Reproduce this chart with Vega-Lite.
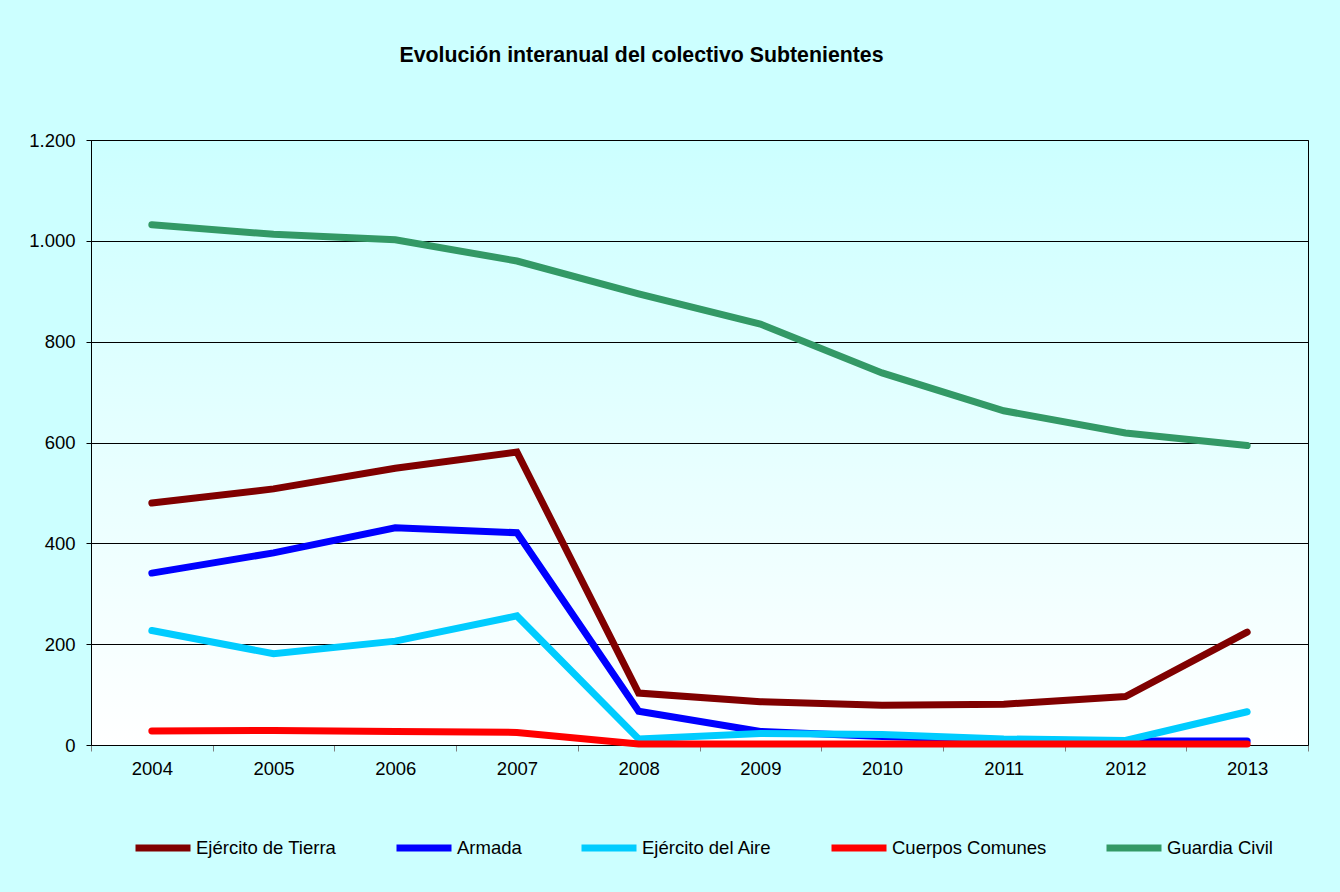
{
  "$schema": "https://vega.github.io/schema/vega-lite/v6.json",
  "autosize": {"type": "none"},
  "width": 1217,
  "height": 605,
  "padding": {"left": 91, "top": 140, "right": 32, "bottom": 147},
  "background": "#CCFFFF",
  "title": {
    "text": "Evolución interanual del colectivo Subtenientes",
    "font": "Liberation Sans",
    "fontSize": 21.3,
    "fontWeight": "bold",
    "color": "#000000",
    "anchor": "middle",
    "frame": "group",
    "dx": -58,
    "offset": 65
  },
  "data": {
    "values": [
      {"year": "2004", "serie": "Ejército de Tierra", "valor": 480},
      {"year": "2005", "serie": "Ejército de Tierra", "valor": 508},
      {"year": "2006", "serie": "Ejército de Tierra", "valor": 549},
      {"year": "2007", "serie": "Ejército de Tierra", "valor": 581},
      {"year": "2008", "serie": "Ejército de Tierra", "valor": 103},
      {"year": "2009", "serie": "Ejército de Tierra", "valor": 86},
      {"year": "2010", "serie": "Ejército de Tierra", "valor": 79},
      {"year": "2011", "serie": "Ejército de Tierra", "valor": 81},
      {"year": "2012", "serie": "Ejército de Tierra", "valor": 96},
      {"year": "2013", "serie": "Ejército de Tierra", "valor": 224},
      {"year": "2004", "serie": "Armada", "valor": 341},
      {"year": "2005", "serie": "Armada", "valor": 381},
      {"year": "2006", "serie": "Armada", "valor": 431},
      {"year": "2007", "serie": "Armada", "valor": 421},
      {"year": "2008", "serie": "Armada", "valor": 67},
      {"year": "2009", "serie": "Armada", "valor": 27},
      {"year": "2010", "serie": "Armada", "valor": 17},
      {"year": "2011", "serie": "Armada", "valor": 10},
      {"year": "2012", "serie": "Armada", "valor": 8},
      {"year": "2013", "serie": "Armada", "valor": 8},
      {"year": "2004", "serie": "Ejército del Aire", "valor": 227},
      {"year": "2005", "serie": "Ejército del Aire", "valor": 181},
      {"year": "2006", "serie": "Ejército del Aire", "valor": 206},
      {"year": "2007", "serie": "Ejército del Aire", "valor": 256},
      {"year": "2008", "serie": "Ejército del Aire", "valor": 12},
      {"year": "2009", "serie": "Ejército del Aire", "valor": 23},
      {"year": "2010", "serie": "Ejército del Aire", "valor": 21},
      {"year": "2011", "serie": "Ejército del Aire", "valor": 12},
      {"year": "2012", "serie": "Ejército del Aire", "valor": 9},
      {"year": "2013", "serie": "Ejército del Aire", "valor": 66},
      {"year": "2004", "serie": "Cuerpos Comunes", "valor": 28},
      {"year": "2005", "serie": "Cuerpos Comunes", "valor": 29},
      {"year": "2006", "serie": "Cuerpos Comunes", "valor": 27},
      {"year": "2007", "serie": "Cuerpos Comunes", "valor": 25},
      {"year": "2008", "serie": "Cuerpos Comunes", "valor": 2},
      {"year": "2009", "serie": "Cuerpos Comunes", "valor": 2},
      {"year": "2010", "serie": "Cuerpos Comunes", "valor": 2},
      {"year": "2011", "serie": "Cuerpos Comunes", "valor": 2},
      {"year": "2012", "serie": "Cuerpos Comunes", "valor": 2},
      {"year": "2013", "serie": "Cuerpos Comunes", "valor": 2},
      {"year": "2004", "serie": "Guardia Civil", "valor": 1032},
      {"year": "2005", "serie": "Guardia Civil", "valor": 1013},
      {"year": "2006", "serie": "Guardia Civil", "valor": 1002},
      {"year": "2007", "serie": "Guardia Civil", "valor": 960},
      {"year": "2008", "serie": "Guardia Civil", "valor": 895},
      {"year": "2009", "serie": "Guardia Civil", "valor": 835},
      {"year": "2010", "serie": "Guardia Civil", "valor": 738},
      {"year": "2011", "serie": "Guardia Civil", "valor": 663},
      {"year": "2012", "serie": "Guardia Civil", "valor": 619},
      {"year": "2013", "serie": "Guardia Civil", "valor": 594}
    ]
  },
  "mark": {"type": "line", "strokeWidth": 7, "strokeCap": "round", "strokeJoin": "miter"},
  "encoding": {
    "x": {
      "field": "year",
      "type": "ordinal",
      "scale": {"type": "band", "paddingInner": 0, "paddingOuter": 0},
      "axis": {
        "title": null,
        "labelAngle": 0,
        "tickBand": "extent",
        "tickSize": 6,
        "tickColor": "#808080",
        "domainColor": "#000000",
        "labelFont": "Liberation Sans",
        "labelFontSize": 18.5,
        "labelColor": "#000000",
        "labelPadding": 8,
        "grid": false
      }
    },
    "y": {
      "field": "valor",
      "type": "quantitative",
      "scale": {"domain": [0, 1200], "nice": false},
      "axis": {
        "title": null,
        "values": [0, 200, 400, 600, 800, 1000, 1200],
        "labelExpr": "replace(format(datum.value, ','), ',', '.')",
        "tickSize": 5,
        "tickColor": "#000000",
        "domainColor": "#000000",
        "labelFont": "Liberation Sans",
        "labelFontSize": 18.5,
        "labelColor": "#000000",
        "labelPadding": 11,
        "grid": true,
        "gridColor": "#000000",
        "gridWidth": 1,
        "gridOpacity": 1
      }
    },
    "color": {
      "field": "serie",
      "type": "nominal",
      "sort": null,
      "scale": {
        "domain": ["Ejército de Tierra", "Armada", "Ejército del Aire", "Cuerpos Comunes", "Guardia Civil"],
        "range": ["#800000", "#0000FF", "#00CCFF", "#FF0000", "#339966"]
      },
      "legend": {
        "title": null,
        "orient": "none",
        "direction": "horizontal",
        "legendX": 41,
        "legendY": 677,
        "symbolType": "stroke",
        "symbolSize": 3025,
        "symbolStrokeWidth": 7,
        "labelFont": "Liberation Sans",
        "labelFontSize": 18.5,
        "labelColor": "#000000",
        "labelOffset": 2,
        "columnPadding": 45
      }
    }
  },
  "config": {
    "view": {
      "stroke": "#000000",
      "strokeWidth": 1,
      "fill": {
        "gradient": "linear",
        "x1": 0, "y1": 0, "x2": 0, "y2": 1,
        "stops": [
          {"offset": 0, "color": "#CCFFFF"},
          {"offset": 1, "color": "#FFFFFF"}
        ]
      }
    }
  }
}
